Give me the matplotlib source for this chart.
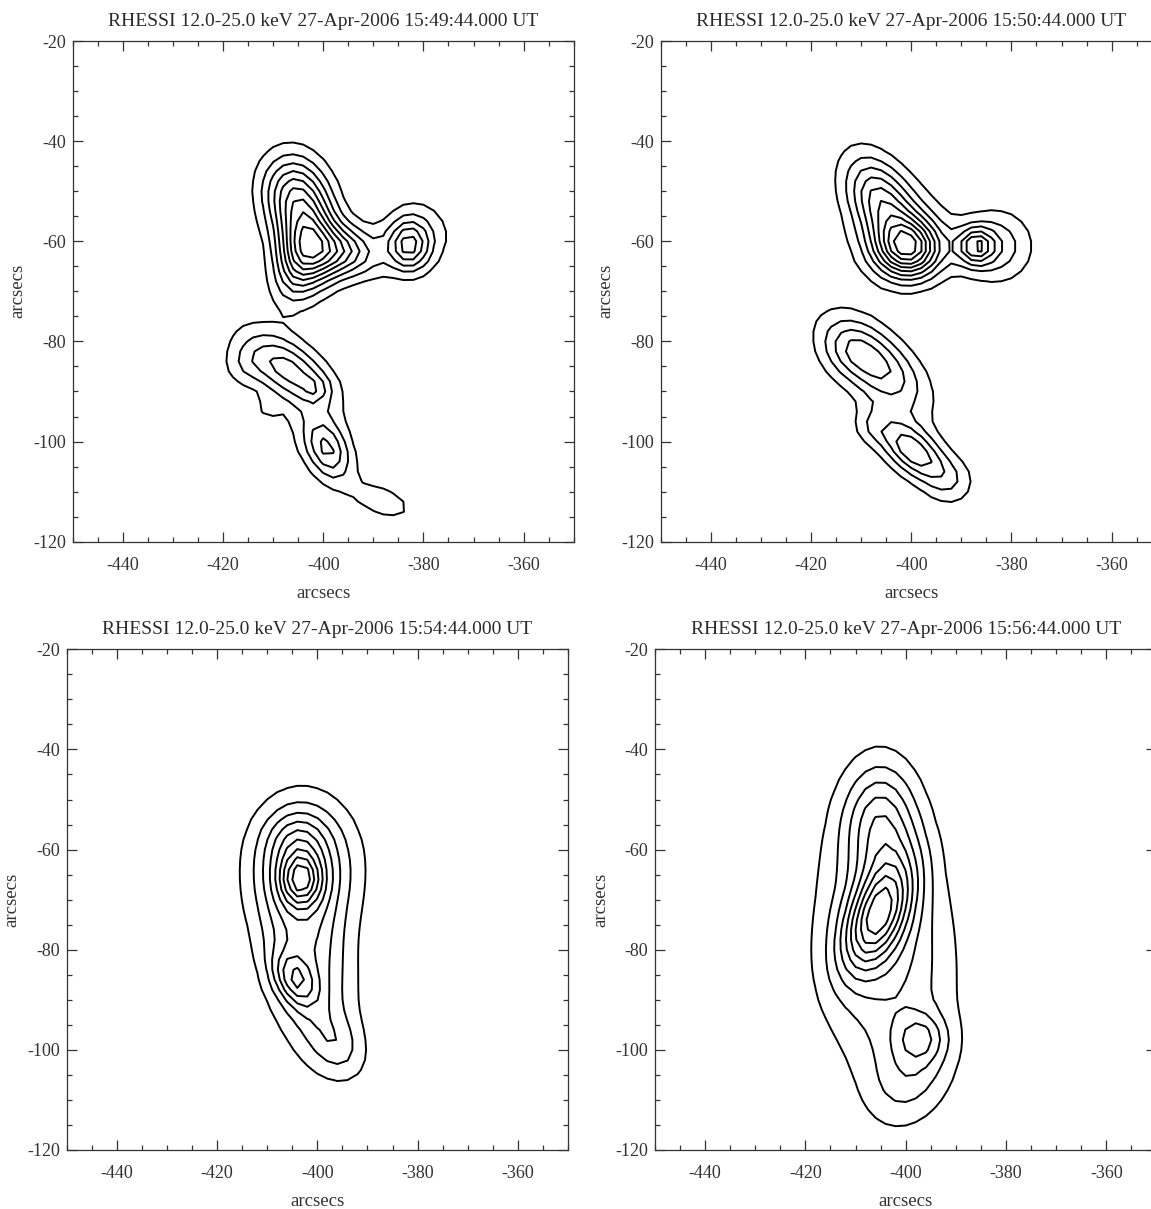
import numpy as np
import matplotlib
matplotlib.use('Agg')
import matplotlib.pyplot as plt
from matplotlib.ticker import MultipleLocator

plt.rcParams['font.family'] = ['Liberation Serif', 'DejaVu Serif']
plt.rcParams['axes.unicode_minus'] = False

# map times (UT) and common header info
times = ['15:49:44.000', '15:50:44.000', '15:54:44.000', '15:56:44.000']
band = '12.0-25.0 keV'
day = '27-Apr-2006'

# gaussian components making up each map
# x, y centre (arcsec), width along / across the axis (arcsec), axis angle (deg), amplitude
src_x_1 = [-403.0, -405.5, -396.0, -383.0, -390.0, -381.0, -406.0,
           -407.0, -401.5, -399.2, -388.0, -405.0, -416.0, -411.0]
src_y_1 = [-61.0, -51.0, -62.0, -61.0, -65.0, -58.5, -67.0,
           -85.5, -89.5, -101.5, -112.0, -92.0, -85.0, -93.2]
src_sa_1 = [5.5, 5.8, 4.5, 3.5, 3.0, 5.0, 5.0,
            7.0, 1.8, 4.5, 5.0, 12.0, 3.0, 1.2]
src_sb_1 = [4.0, 4.5, 3.5, 2.8, 3.0, 5.0, 3.0,
            3.5, 1.8, 2.8, 2.5, 5.0, 3.0, 1.2]
src_th_1 = [90, 105, 0, 90, 0, 0, 80,
            -35, 0, -65, -20, -60, 0, 0]
src_a_1 = [0.55, 0.45, 0.35, 0.34, 0.04, 0.13, 0.15,
           0.30, 0.10, 0.30, 0.12, 0.07, 0.09, 0.10]

src_x_2 = [-400.5, -406.0, -403.0, -387.2, -383.0, -407.5, -399.5, -413.0, -392.0, -403.0, -408.0]
src_y_2 = [-61.5, -52.0, -58.0, -61.0, -61.0, -84.0, -102.0, -82.0, -108.0, -95.0, -97.0]
src_sa_2 = [4.5, 7.0, 7.0, 2.5, 5.0, 8.0, 5.5, 4.0, 3.5, 10.0, 2.5]
src_sb_2 = [4.0, 4.0, 7.0, 2.5, 5.0, 4.0, 2.8, 4.0, 3.5, 5.0, 2.5]
src_th_2 = [0, 120, 0, 0, 0, -40, -40, 0, 0, -60, 0]
src_a_2 = [0.60, 0.40, 0.13, 0.38, 0.22, 0.33, 0.36, 0.09, 0.11, 0.07, 0.09]

src_x_3 = [-403.3, -402.5, -402.0, -404.5, -396.0, -404.0]
src_y_3 = [-66.0, -63.0, -82.0, -86.0, -99.0, -58.0]
src_sa_3 = [2.8, 7.0, 13.0, 4.0, 5.0, 4.0]
src_sb_3 = [3.5, 9.0, 6.0, 2.5, 3.5, 4.0]
src_th_3 = [0, 0, -80, -60, -60, 0]
src_a_3 = [0.40, 0.35, 0.30, 0.30, 0.15, 0.15]

src_x_4 = [-405.5, -405.0, -397.0, -404.0, -399.0]
src_y_4 = [-73.0, -55.0, -97.5, -80.0, -105.0]
src_sa_4 = [8.0, 8.5, 3.3, 18.0, 7.0]
src_sb_4 = [3.8, 5.0, 3.3, 9.0, 5.0]
src_th_4 = [66, 90, 0, 95, 60]
src_a_4 = [0.50, 0.30, 0.17, 0.25, 0.13]

# contour levels, fraction of map maximum
levels = [0.1, 0.2, 0.3, 0.4, 0.5, 0.6, 0.7, 0.8, 0.9]

# 2 arcsec pixels over the field of view
xpix = np.arange(-450, -349, 2.0)
ypix = np.arange(-120, -19, 2.0)


def make_map(sx, sy, sa, sb, th, amp):
    xx, yy = np.meshgrid(xpix, ypix)
    img = np.zeros_like(xx)
    for x0, y0, s1, s2, t, a in zip(sx, sy, sa, sb, th, amp):
        t = np.radians(t)
        u = (xx - x0) * np.cos(t) + (yy - y0) * np.sin(t)
        v = -(xx - x0) * np.sin(t) + (yy - y0) * np.cos(t)
        img += a * np.exp(-0.5 * ((u / s1) ** 2 + (v / s2) ** 2))
    return xx, yy, img


maps = [
    (src_x_1, src_y_1, src_sa_1, src_sb_1, src_th_1, src_a_1),
    (src_x_2, src_y_2, src_sa_2, src_sb_2, src_th_2, src_a_2),
    (src_x_3, src_y_3, src_sa_3, src_sb_3, src_th_3, src_a_3),
    (src_x_4, src_y_4, src_sa_4, src_sb_4, src_th_4, src_a_4),
]

W, H = 1151, 1209
fig = plt.figure(figsize=(W / 100, H / 100), dpi=100)

# panel boxes in pixels: left, right, top, bottom
boxes = [(72.7, 573.7, 41, 541.7), (660.7, 1161.7, 41, 541.7),
         (66.7, 568.0, 649.3, 1150), (655.0, 1156.4, 649.3, 1150)]

txt = '#333333'
for i, (box, m) in enumerate(zip(boxes, maps)):
    l, r, t, b = box
    ax = fig.add_axes([l / W, (H - b) / H, (r - l) / W, (b - t) / H])
    xx, yy, img = make_map(*m)
    ax.contour(xx, yy, img, levels=np.array(levels) * img.max(),
               colors='k', linewidths=1.4)
    ax.set_xlim(-450, -350)
    ax.set_ylim(-120, -20)
    ax.xaxis.set_major_locator(MultipleLocator(20))
    ax.xaxis.set_minor_locator(MultipleLocator(5))
    ax.yaxis.set_major_locator(MultipleLocator(20))
    ax.yaxis.set_minor_locator(MultipleLocator(5))
    ax.set_xticks([-440, -420, -400, -380, -360])
    ax.tick_params(which='both', direction='in', top=True, right=True,
                   colors='#333333', width=0.9, labelcolor=txt, labelsize=13)
    ax.tick_params(which='major', length=7.2)
    ax.tick_params(which='minor', length=3.6)
    ax.tick_params(axis='x', pad=11)
    ax.tick_params(axis='y', pad=5)
    for s in ax.spines.values():
        s.set_linewidth(0.9)
        s.set_color('#333333')
    ax.set_xlabel('arcsecs', fontsize=13.5, color=txt, labelpad=8)
    ax.set_ylabel('arcsecs', fontsize=13.5, color=txt)
    ax.yaxis.set_label_coords(-46 / (r - l), 0.5)
    ax.set_title('RHESSI %s %s %s UT' % (band, day, times[i]),
                 fontsize=14, color='#2a2a2a', pad=11)
    ylabs = ax.get_yticklabels()
    ylabs[0].set_verticalalignment('bottom')
    ylabs[-1].set_verticalalignment('top')

fig.savefig('out.png', dpi=100)
